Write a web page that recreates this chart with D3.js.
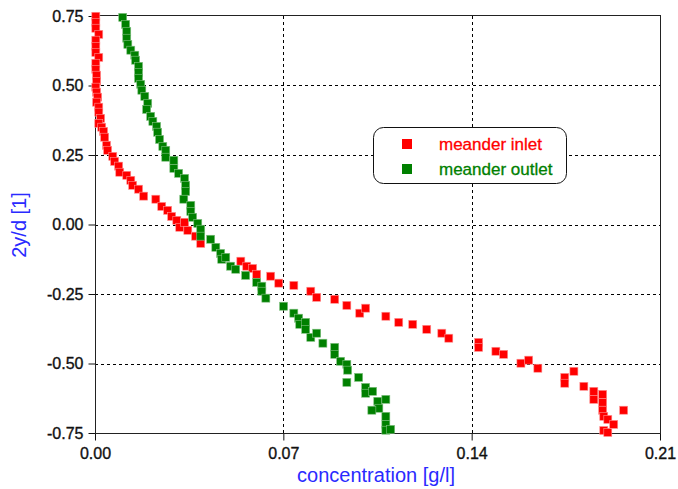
<!DOCTYPE html>
<meta charset="utf-8">
<head>
	<script src="https://d3js.org/d3.v7.min.js"></script>
</head>
<style>
	body {
		margin: 0;
		background: #fff;
	}
	.tick-label {
		font-family: "Liberation Sans", Arial, sans-serif;
		font-size: 16px;
		fill: #111;
		stroke: #111;
		stroke-width: 0.35px;
	}
	.axis-title {
		font-family: "Liberation Sans", Arial, sans-serif;
		font-size: 20px;
		fill: #2a2aff;
	}
	.grid line {
		stroke: #000;
		stroke-width: 1px;
		stroke-dasharray: 3,3;
	}
	.legend-text {
		font-family: "Liberation Sans", Arial, sans-serif;
		font-size: 17px;
		stroke-width: 0.3px;
	}
</style>
<body>
<script>
	// tick values
	var xTicks = [0, 0.07, 0.14, 0.21];
	var yTicks = [0.75, 0.5, 0.25, 0, -0.25, -0.5, -0.75];

	// meander inlet (red)
	var inletX = [0.0003, 0.0003, 0.0003, 0.0014, 0.0003, 0.0003, 0.0003, 0.0014, 0.0003, 0.0003,
		0.0006, 0.0006, 0.0003, 0.0006, 0.0010, 0.0006, 0.0014, 0.0014, 0.0021, 0.0014,
		0.0025, 0.0032, 0.0036, 0.0043, 0.0047, 0.0066, 0.0073, 0.0088, 0.0092, 0.0118,
		0.0133, 0.0140, 0.0162, 0.0181, 0.0226, 0.0248, 0.0270, 0.0285, 0.0304, 0.0315,
		0.0333, 0.0345, 0.0374, 0.0393, 0.0542, 0.0564, 0.0586, 0.0601, 0.0653, 0.0683,
		0.0739, 0.0802, 0.0824, 0.0891, 0.0936, 0.0984, 0.1006, 0.1081, 0.1129, 0.1181,
		0.1233, 0.1289, 0.1315, 0.1426, 0.1426, 0.1490, 0.1519, 0.1583, 0.1612, 0.1646,
		0.1746, 0.1746, 0.1780, 0.1817, 0.1854, 0.1854, 0.1887, 0.1887, 0.1887, 0.1891,
		0.1906, 0.1928, 0.1965, 0.1891, 0.1906];
	var inletY = [0.749, 0.727, 0.706, 0.684, 0.663, 0.641, 0.619, 0.601, 0.580, 0.558,
		0.537, 0.515, 0.494, 0.476, 0.458, 0.440, 0.422, 0.404, 0.382, 0.364,
		0.350, 0.335, 0.314, 0.285, 0.267, 0.245, 0.227, 0.210, 0.188, 0.177,
		0.159, 0.141, 0.127, 0.102, 0.091, 0.065, 0.051, 0.029, 0.015, -0.010,
		0.008, -0.021, -0.042, -0.068, -0.132, -0.150, -0.158, -0.179, -0.186, -0.211,
		-0.219, -0.240, -0.262, -0.269, -0.291, -0.319, -0.301, -0.330, -0.352, -0.359,
		-0.377, -0.391, -0.409, -0.424, -0.442, -0.456, -0.467, -0.499, -0.488, -0.517,
		-0.550, -0.571, -0.528, -0.582, -0.600, -0.629, -0.611, -0.640, -0.668, -0.690,
		-0.701, -0.719, -0.668, -0.741, -0.748];

	// meander outlet (green)
	var outletX = [0.0103, 0.0114, 0.0118, 0.0118, 0.0122, 0.0133, 0.0148, 0.0151, 0.0162, 0.0162,
		0.0162, 0.0170, 0.0174, 0.0185, 0.0196, 0.0192, 0.0207, 0.0215, 0.0229, 0.0233,
		0.0240, 0.0252, 0.0263, 0.0263, 0.0293, 0.0293, 0.0311, 0.0333, 0.0337, 0.0337,
		0.0330, 0.0356, 0.0356, 0.0363, 0.0382, 0.0393, 0.0393, 0.0430, 0.0449, 0.0467,
		0.0471, 0.0486, 0.0504, 0.0523, 0.0560, 0.0601, 0.0620, 0.0620, 0.0635, 0.0701,
		0.0739, 0.0757, 0.0761, 0.0783, 0.0783, 0.0802, 0.0824, 0.0847, 0.0891, 0.0891,
		0.0913, 0.0936, 0.0939, 0.0936, 0.0980, 0.1006, 0.1006, 0.1032, 0.1051, 0.1055,
		0.1029, 0.1081, 0.1081, 0.1081, 0.1081, 0.1099];
	var outletY = [0.745, 0.720, 0.695, 0.670, 0.648, 0.627, 0.609, 0.591, 0.569, 0.547,
		0.526, 0.504, 0.483, 0.461, 0.436, 0.414, 0.389, 0.371, 0.353, 0.332,
		0.306, 0.281, 0.267, 0.242, 0.231, 0.202, 0.184, 0.166, 0.141, 0.119,
		0.091, 0.069, 0.047, 0.026, 0.004, -0.017, -0.042, -0.053, -0.082, -0.104,
		-0.125, -0.118, -0.150, -0.161, -0.183, -0.208, -0.222, -0.240, -0.265, -0.294,
		-0.319, -0.337, -0.359, -0.352, -0.377, -0.406, -0.391, -0.427, -0.442, -0.467,
		-0.492, -0.503, -0.524, -0.568, -0.550, -0.586, -0.607, -0.600, -0.636, -0.661,
		-0.668, -0.629, -0.690, -0.719, -0.740, -0.737];

	var series = [
		{name: "meander inlet", color: "#ff0000", edge: "#ff9090", xs: inletX, ys: inletY},
		{name: "meander outlet", color: "#008000", edge: "#80c080", xs: outletX, ys: outletY}
	];

	var width = 678, height = 489;
	var plotLeft = 95, plotRight = 660, plotTop = 16, plotBottom = 433;

	var svg = d3.select("body").append("svg")
		.attr("width", width)
		.attr("height", height);

	var x = d3.scaleLinear().domain([0, 0.21]).range([plotLeft, plotRight]);
	var y = d3.scaleLinear().domain([-0.75, 0.75]).range([plotBottom, plotTop]);

	var fmt = function(d) { return d.toFixed(2); };

	// grid lines
	var grid = svg.append("g").attr("class", "grid");
	grid.selectAll(".gx")
		.data(xTicks.slice(1, -1))
		.enter().append("line")
		.attr("x1", function(d) { return Math.round(x(d)) + 0.5; })
		.attr("x2", function(d) { return Math.round(x(d)) + 0.5; })
		.attr("y1", plotTop)
		.attr("y2", plotBottom);
	grid.selectAll(".gy")
		.data(yTicks.slice(1, -1))
		.enter().append("line")
		.attr("x1", plotLeft)
		.attr("x2", plotRight)
		.attr("y1", function(d) { return Math.round(y(d)) + 0.5; })
		.attr("y2", function(d) { return Math.round(y(d)) + 0.5; });

	// axes
	var xAxis = d3.axisBottom(x)
		.tickValues(xTicks)
		.tickFormat(fmt)
		.tickSize(7)
		.tickPadding(7);
	var yAxis = d3.axisLeft(y)
		.tickValues(yTicks)
		.tickFormat(fmt)
		.tickSize(7)
		.tickPadding(5);

	var gx = svg.append("g")
		.attr("transform", "translate(0," + (plotBottom + 0.5) + ")")
		.call(xAxis);
	var gy = svg.append("g")
		.attr("transform", "translate(" + (plotLeft + 0.5) + ",0)")
		.call(yAxis);

	[gx, gy].forEach(function(g) {
		g.select(".domain").remove();
		g.selectAll("line").attr("stroke", "#111");
		g.selectAll("text").attr("class", "tick-label").attr("font-size", null).attr("font-family", null);
	});

	// frame
	svg.append("rect")
		.attr("x", plotLeft + 0.5)
		.attr("y", plotTop - 0.5)
		.attr("width", plotRight - plotLeft)
		.attr("height", plotBottom - plotTop + 1)
		.attr("fill", "none")
		.attr("stroke", "#222")
		.attr("stroke-width", 1);

	// markers
	var size = 8;
	series.forEach(function(s) {
		svg.append("g").selectAll("rect")
			.data(s.xs.map(function(v, i) { return [v, s.ys[i]]; }))
			.enter().append("rect")
			.attr("x", function(d) { return x(d[0]) - size / 2; })
			.attr("y", function(d) { return y(d[1]) - size / 2; })
			.attr("width", size)
			.attr("height", size)
			.attr("fill", s.color)
			.attr("stroke", s.edge)
			.attr("stroke-width", 0.6);
	});

	// axis titles
	svg.append("text")
		.attr("class", "axis-title")
		.attr("x", 376)
		.attr("y", 482)
		.attr("text-anchor", "middle")
		.text("concentration [g/l]");
	svg.append("text")
		.attr("class", "axis-title")
		.attr("transform", "translate(26,225) rotate(-90)")
		.attr("text-anchor", "middle")
		.text("2y/d [1]");

	// legend
	var legend = svg.append("g");
	legend.append("rect")
		.attr("x", 373.5)
		.attr("y", 127.5)
		.attr("width", 193)
		.attr("height", 56)
		.attr("rx", 10)
		.attr("fill", "#fff")
		.attr("stroke", "#111");
	series.forEach(function(s, i) {
		legend.append("rect")
			.attr("x", 402)
			.attr("y", 139 + i * 25)
			.attr("width", 10)
			.attr("height", 10)
			.attr("fill", s.color);
		legend.append("text")
			.attr("class", "legend-text")
			.attr("x", 439)
			.attr("y", 150 + i * 25)
			.attr("fill", s.color)
			.attr("stroke", s.color)
			.text(s.name);
	});
</script>
</body>
